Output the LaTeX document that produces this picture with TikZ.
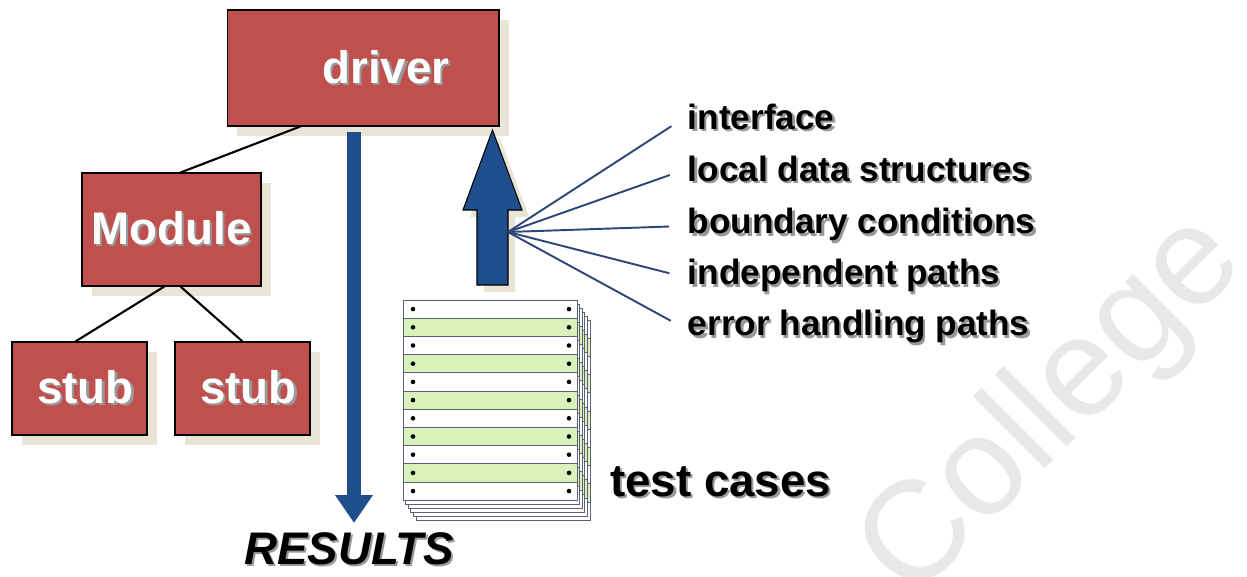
\documentclass[tikz,border=0pt]{standalone}
\usepackage{fontspec}
\setmainfont{Liberation Sans}
\usetikzlibrary{positioning, arrows.meta, calc, shadows}
\definecolor{boxred}{HTML}{C0504D}
\definecolor{boxshade}{HTML}{E8E4D6}
\definecolor{flowblue}{HTML}{1F4E8C}
\definecolor{fanblue}{HTML}{2F4778}
\definecolor{rowgreen}{HTML}{D8F2BA}
\definecolor{rowedge}{HTML}{5C607A}
\definecolor{txtshade}{HTML}{999999}
\newcommand{\shd}[1]{\leavevmode\rlap{\kern1.3pt\raisebox{-1.3pt}{\color{txtshade}#1}}#1}

\tikzset{
  unitbox/.style={draw=black, line width=0.6pt, fill=boxred, text=white,
    font=\fontsize{26}{30}\selectfont\bfseries,
    drop shadow={shadow xshift=5.5pt, shadow yshift=-5.5pt, fill=boxshade, opacity=1}},
  item/.style={anchor=west, font=\fontsize{20}{24}\selectfont\bfseries, inner sep=2pt},
  link/.style={black, line width=1.2pt},
  fan/.style={fanblue, line width=1.1pt, shorten >=0.3cm},
}

\begin{document}
\begin{tikzpicture}[x=0.02cm, y=-0.02cm]
  \useasboundingbox (0,0) rectangle (1247,576);
  \node[rotate=45, text=black!9, font=\fontsize{80}{80}\selectfont] (mark) at (1054,408) {College};

  \node[unitbox, minimum width=5.44cm, minimum height=2.32cm] (driver) at (363,68) {\hspace*{0.92cm}\shd{driver}};
  \node[unitbox, minimum width=3.58cm, minimum height=2.26cm] (module) at (171.5,229.5) {\shd{Module}};
  \node[unitbox, minimum width=2.7cm, minimum height=1.86cm] (stubA) at (79.5,388.5) {\hspace*{0.24cm}\shd{stub}};
  \node[unitbox, minimum width=2.7cm, minimum height=1.86cm] (stubB) at (242.5,388.5) {\hspace*{0.24cm}\shd{stub}};

  \draw[link] ($(driver.south west)!0.27!(driver.south east)$) -- ($(module.north west)!0.55!(module.north east)$);
  \draw[link] ($(module.south west)!0.46!(module.south east)$) -- ($(stubA.north west)!0.47!(stubA.north east)$);
  \draw[link] ($(module.south west)!0.55!(module.south east)$) -- (stubB.north);

  \node[font=\fontsize{26}{30}\selectfont\bfseries\itshape] (results) at (349,550) {\shd{RESULTS}};
  \coordinate (resTip) at (354,523);
  \draw[flowblue, line width=0.28cm, shorten <=0.1cm, -{Triangle[length=0.56cm, width=0.72cm]}] (driver.south -| resTip) -- (resTip);

  \foreach \k in {5,4,...,0} {
    \begin{scope}[shift={(2.6*\k,4*\k)}]
      \foreach \r in {0,2,...,10}
        \filldraw[draw=rowedge, fill=white, line width=0.5pt] (403,300+18.2*\r) rectangle (577,318.2+18.2*\r);
      \foreach \r in {1,3,...,9}
        \filldraw[draw=rowedge, fill=rowgreen, line width=0.5pt] (403,300+18.2*\r) rectangle (577,318.2+18.2*\r);
    \end{scope}
  }
  \foreach \r in {0,...,10} {
    \fill (413,309.1+18.2*\r) circle (1.3pt);
    \fill (569,309.1+18.2*\r) circle (1.3pt);
  }
  \node[anchor=west, font=\fontsize{26}{30}\selectfont\bfseries] (cases) at (604,483) {\shd{test cases}};

  \filldraw[fill=flowblue, draw=black, line width=0.6pt,
    drop shadow={shadow xshift=4pt, shadow yshift=-4pt, fill=boxshade, opacity=1}]
    (477,285) -- (477,210) -- (463,210) -- (492.5,130) -- (522,210) -- (508,210) -- (508,285) -- cycle;
  \coordinate (hub) at (508,232);

  \node[item] (iface) at (684,118) {\shd{interface}};
  \node[item] (local) at (684,170) {\shd{local data structures}};
  \node[item] (bound) at (684,226) {\shd{boundary conditions}};
  \node[item] (indep) at (684,277) {\shd{independent paths}};
  \node[item] (error) at (684,328) {\shd{error handling paths}};
  \foreach \n in {iface, local, bound, indep, error}
    \draw[fan] (hub) -- (\n.west);
\end{tikzpicture}
\end{document}
